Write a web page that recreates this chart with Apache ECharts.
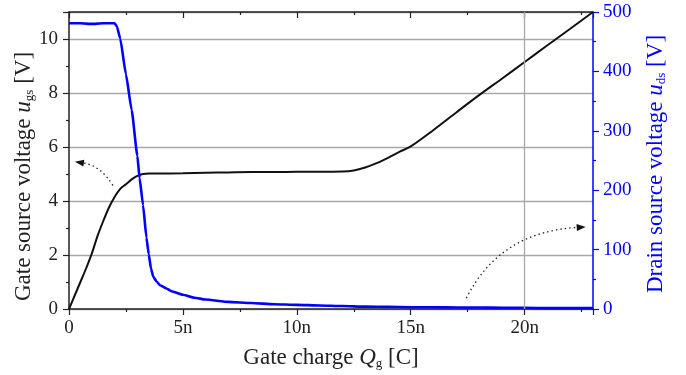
<!DOCTYPE html>
<html>
<head>
<meta charset="utf-8">
<script src="https://cdn.jsdelivr.net/npm/echarts@6/dist/echarts.min.js"></script>
<style>
  html, body { margin: 0; padding: 0; background: #fff; }
  #chart { width: 686px; height: 375px; }
</style>
</head>
<body>
<div id="chart"></div>
<script>
// ============================================================
// Gate charge curve — u_gs (left axis) and u_ds (right axis)
// ============================================================

// gate charge [nC] for the gate-source trace
const qGs = [0, 0.25, 0.5, 0.75, 1.0, 1.25, 1.5, 1.75, 2.0, 2.25, 2.5, 2.75, 3.0, 3.25, 3.5,
    4, 5, 6, 7, 8, 9, 10, 11, 12, 12.5, 13, 13.5, 14, 14.5, 15, 16, 17, 18, 19, 20, 21, 22, 23];
const uGs = [0, 0.5, 1.0, 1.5, 2.05, 2.7, 3.25, 3.75, 4.15, 4.45, 4.62, 4.8, 4.93, 5.0, 5.02,
    5.02, 5.03, 5.05, 5.06, 5.07, 5.07, 5.08, 5.08, 5.09, 5.13, 5.24, 5.4, 5.6, 5.82, 6.02,
    6.63, 7.28, 7.92, 8.53, 9.15, 9.77, 10.38, 11.0];

// gate charge [nC] for the drain-source trace
const qDs = [0, 0.5, 1.0, 1.5, 2.0, 2.1, 2.25, 2.5, 2.75, 3.0, 3.1, 3.25, 3.4, 3.5, 3.6, 3.7,
    3.85, 4.0, 4.25, 4.5, 5, 5.5, 6, 7, 8, 9, 10, 11, 12, 13, 14, 15, 16, 17, 18, 19, 20, 21, 22, 23];
const uDs = [481, 481, 480, 481, 481, 476, 455, 395, 335, 258, 220, 175, 120, 92, 68, 54,
    46, 40, 35, 30, 24, 19, 16, 12, 10, 8, 7, 6, 5, 4, 3.5, 3, 3, 2.5, 2.5, 2, 2, 1.5, 1.5, 1.5];

const xTicks = [0, 5, 10, 15, 20];
const leftTicks = [0, 2, 4, 6, 8, 10];

// dotted arrows: start, control, end — in (nC, V) on the left axis
const arrowGs = [[1.93, 4.58], [1.36, 5.32], [0.26, 5.45]];
const arrowDs = [[17.44, 0.4], [18.9, 2.85], [22.68, 3.04]];

const SERIF = 'Liberation Serif';
const BLUE = '#0000ff';
const INK = '#222';

function pair(xs, ys) {
    return xs.map((x, i) => [x, ys[i]]);
}

function nameRich(color) {
    return {
        a: { fontFamily: SERIF, fontSize: 23, color: color },
        i: { fontFamily: SERIF, fontSize: 23, fontStyle: 'italic', color: color },
        s: { fontFamily: SERIF, fontSize: 13, color: color, padding: [12, 0, 0, 0] }
    };
}

const chart = echarts.init(document.getElementById('chart'));

const option = {
    backgroundColor: '#ffffff',
    animation: false,
    grid: { left: 69, right: 93, top: 12, bottom: 66, outerBoundsMode: 'none', containLabel: false },
    xAxis: [{
        type: 'value',
        min: 0, max: 23, interval: 5,
        position: 'bottom',
        name: '{a|Gate charge }{i|Q}{s|g}{a| [C]}',
        nameLocation: 'middle',
        nameGap: 36,
        nameMoveOverlap: false,
        nameTextStyle: { rich: nameRich(INK) },
        axisLine: { show: true, onZero: false, lineStyle: { color: INK, width: 1.5 } },
        axisTick: { show: true, inside: false, length: 6, lineStyle: { color: INK, width: 1.2 } },
        minorTick: { show: true, splitNumber: 2, length: 3, lineStyle: { color: INK, width: 1.2 } },
        axisLabel: {
            fontFamily: SERIF, fontSize: 19, color: INK, margin: 10,
            formatter: (v) => xTicks.indexOf(v) < 0 ? '' : (v === 0 ? '0' : v + 'n')
        },
        splitLine: { show: false }
    }, {
        type: 'value',
        min: 0, max: 23, interval: 5,
        position: 'top',
        axisLine: { show: true, onZero: false, lineStyle: { color: INK, width: 1.5 } },
        axisTick: { show: true, inside: true, length: 6, lineStyle: { color: INK, width: 1.2 } },
        minorTick: { show: true, splitNumber: 2, length: 3, lineStyle: { color: INK, width: 1.2 } },
        axisLabel: { show: false },
        splitLine: { show: false }
    }],
    yAxis: [{
        type: 'value',
        min: 0, max: 11, interval: 2,
        position: 'left',
        name: '{a|Gate source voltage }{i|u}{s|gs}{a| [V]}',
        nameLocation: 'middle',
        nameRotate: 90,
        nameGap: 33,
        nameMoveOverlap: false,
        nameTextStyle: { rich: nameRich(INK), padding: [0, 32, 0, 0] },
        axisLine: { show: true, onZero: false, lineStyle: { color: INK, width: 1.5 } },
        axisTick: { show: true, inside: false, length: 6, lineStyle: { color: INK, width: 1.2 } },
        minorTick: { show: true, splitNumber: 2, length: 3, lineStyle: { color: INK, width: 1.2 } },
        axisLabel: {
            fontFamily: SERIF, fontSize: 19, color: INK, margin: 11,
            formatter: (v) => leftTicks.indexOf(v) < 0 ? '' : String(v)
        },
        splitLine: { show: true, lineStyle: { color: '#a8a8a8', width: 1.3 } }
    }, {
        type: 'value',
        min: 0, max: 500, interval: 100,
        position: 'right',
        name: '{a|Drain source voltage }{i|u}{s|ds}{a| [V]}',
        nameLocation: 'middle',
        nameRotate: 90,
        nameGap: 50,
        nameMoveOverlap: false,
        nameTextStyle: { rich: nameRich(BLUE), padding: [0, 7, 0, 0] },
        axisLine: { show: true, onZero: false, lineStyle: { color: BLUE, width: 1.5 } },
        axisTick: { show: true, inside: false, length: 6, lineStyle: { color: BLUE, width: 1.2 } },
        minorTick: { show: true, splitNumber: 2, length: 3, lineStyle: { color: BLUE, width: 1.2 } },
        axisLabel: { fontFamily: SERIF, fontSize: 19, color: BLUE, margin: 10 },
        splitLine: { show: false }
    }],
    series: [{
        name: 'u_gs',
        type: 'line',
        xAxisIndex: 0,
        yAxisIndex: 0,
        data: pair(qGs, uGs),
        smooth: 0.3,
        symbol: 'none',
        lineStyle: { color: '#111', width: 2 },
        z: 3,
        markLine: {
            silent: true,
            symbol: 'none',
            label: { show: false },
            lineStyle: { color: '#a8a8a8', width: 1.3, type: 'solid' },
            data: [{ xAxis: 20 }]
        }
    }, {
        name: 'u_ds',
        type: 'line',
        xAxisIndex: 0,
        yAxisIndex: 1,
        data: pair(qDs, uDs),
        smooth: 0.15,
        smoothMonotone: 'x',
        symbol: 'none',
        lineStyle: { color: BLUE, width: 2.6 },
        z: 4
    }]
};

chart.setOption(option);

// dotted annotation arrows, placed through the axes' own scales
function arrowGraphic(pts) {
    const p = pts.map((d) => chart.convertToPixel({ xAxisIndex: 0, yAxisIndex: 0 }, d));
    const s = p[0], c = p[1], e = p[2];
    const ang = Math.atan2(e[1] - c[1], e[0] - c[0]);
    const len = 9, half = 3.5;
    const bx = e[0] - len * Math.cos(ang), by = e[1] - len * Math.sin(ang);
    const nx = -Math.sin(ang) * half, ny = Math.cos(ang) * half;
    return [{
        type: 'bezierCurve',
        shape: { x1: s[0], y1: s[1], cpx1: c[0], cpy1: c[1], x2: bx, y2: by },
        style: { stroke: INK, lineWidth: 1.3, lineDash: [1.5, 3], fill: null },
        z: 10
    }, {
        type: 'polygon',
        shape: { points: [[e[0], e[1]], [bx + nx, by + ny], [bx - nx, by - ny]] },
        style: { fill: '#111' },
        z: 10
    }];
}

chart.setOption({
    graphic: arrowGraphic(arrowGs).concat(arrowGraphic(arrowDs))
});
</script>
</body>
</html>
